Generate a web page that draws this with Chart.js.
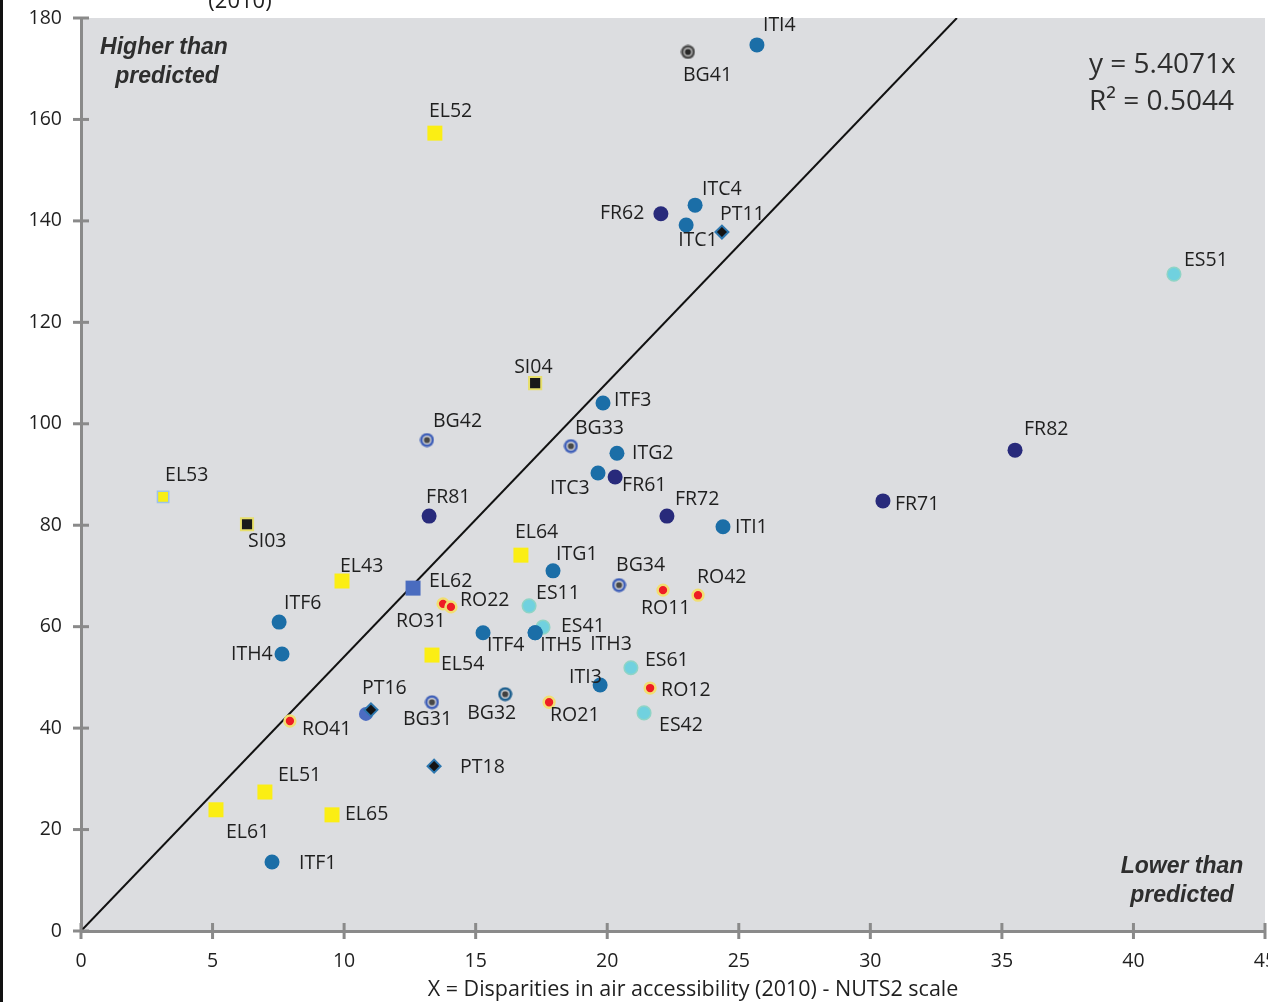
<!DOCTYPE html>
<html>
<head>
<meta charset="utf-8">
<script src="https://cdn.jsdelivr.net/npm/chart.js@4.4.1/dist/chart.umd.min.js"></script>
<style>
  html, body { margin: 0; padding: 0; background: #fff; }
  canvas { display: block; }
</style>
</head>
<body>
<canvas id="chart" width="1268" height="1002"></canvas>
<script>
// NUTS2 regions: air accessibility disparity (x) against the indicator (y)
const regionCodes = [
  'ITI4','BG41','EL52','FR62','ITC4','ITC1','PT11','ES51','SI04','ITF3',
  'BG42','BG33','ITG2','ITC3','FR61','FR81','FR72','ITI1','FR82','FR71',
  'EL53','SI03','EL64','ITG1','BG34','RO11','RO42','EL43','EL62','RO31',
  'RO22','ES11','ITF6','ES41','ITF4','ITH3','ITH5','ITH4','EL54','ES61',
  'ITI3','RO12','ES42','BG32','RO21','BG31','','PT16','RO41','PT18',
  'EL51','EL61','EL65','ITF1'
];
const airAccess = [
  25.69, 23.07, 13.45, 22.04, 23.34, 23.00, 24.36, 41.54, 17.26, 19.84,
  13.15, 18.62, 20.37, 19.65, 20.30, 13.23, 22.27, 24.40, 35.50, 30.48,
   3.12,  6.31, 16.72, 17.94, 20.45, 22.12, 23.45,  9.92, 12.62, 13.76,
  14.06, 17.03,  7.53, 17.56, 15.28, 17.26, 17.26,  7.64, 13.34, 20.90,
  19.73, 21.63, 21.40, 16.12, 17.79, 13.34, 10.83, 11.02,  7.94, 13.42,
   6.99,  5.13,  9.54,  7.26
];
const indicatorValue = [
  174.7, 173.3, 157.3, 141.4, 143.1, 139.2, 137.8, 129.5, 108.0, 104.1,
   96.8,  95.6,  94.2,  90.3,  89.5,  81.8,  81.8,  79.7,  94.8,  84.8,
   85.6,  80.2,  74.1,  71.0,  68.2,  67.2,  66.2,  69.0,  67.6,  64.5,
   63.9,  64.1,  60.9,  59.9,  58.8,  58.8,  58.8,  54.6,  54.4,  51.9,
   48.5,  47.9,  43.0,  46.7,  45.1,  45.1,  42.8,  43.6,  41.4,  32.5,
   27.4,  23.9,  22.9,  13.6
];
const markerGroup = [
  'IT','BG41','EL','FR','IT','IT','PT','ES','SI','IT',
  'BG','BG','IT','IT','FR','FR','FR','IT','FR','FR',
  'EL53','SI','EL','IT','BG','RO','RO','EL','EL62','RO',
  'RO','ES','IT','ES','IT','IT','IT','IT','EL','ES',
  'IT','RO','ES','BG32','RO','BG','OT','PT','RO','PT',
  'EL','EL','EL','IT'
];
const xTickValues = [0, 5, 10, 15, 20, 25, 30, 35, 40, 45];
const yTickValues = [0, 20, 40, 60, 80, 100, 120, 140, 160, 180];
const trendSlope = 5.4071;
const trendR2 = 0.5044;

// label placement around each marker (pixels: dx, dy of the text's left-middle)
const labelOffsets = {
  ITI4:[6,-19], BG41:[-5,23], EL52:[-6,-22], FR62:[-61,0], ITC4:[7,-16],
  ITC1:[-8,15], PT11:[-2,-18], ES51:[10,-14], SI04:[-21,-16], ITF3:[11,-3],
  BG42:[6,-19], BG33:[4,-18], ITG2:[15,0], ITC3:[-48,15], FR61:[7,8],
  FR81:[-3,-19], FR72:[8,-17], ITI1:[12,1], FR82:[9,-21], FR71:[12,4],
  EL53:[2,-21], SI03:[1,17], EL64:[-6,-23], ITG1:[3,-16], BG34:[-3,-20],
  RO11:[-22,18], RO42:[-1,-18], EL43:[-2,-15], EL62:[16,-7], RO31:[-47,18],
  RO22:[9,-6], ES11:[7,-12], ITF6:[5,-19], ES41:[18,-1], ITF4:[4,13],
  ITH3:[55,12], ITH5:[5,13], ITH4:[-51,0], EL54:[9,9], ES61:[14,-7],
  ITI3:[-31,-8], RO12:[11,2], ES42:[15,13], BG32:[-38,19], RO21:[1,13],
  BG31:[-29,17], PT16:[-9,-21], RO41:[12,8], PT18:[26,1], EL51:[13,-17],
  EL61:[10,23], EL65:[13,0], ITF1:[27,1]
};

// ringed markers
function ringMarker(outer, mid, inner) {
  const c = document.createElement('canvas');
  c.width = 15; c.height = 15;
  const g = c.getContext('2d');
  const disc = (r, col) => { g.beginPath(); g.arc(7.5, 7.5, r, 0, Math.PI * 2); g.fillStyle = col; g.fill(); };
  disc(7.0, outer); disc(4.5, mid); disc(3.1, inner);
  return c;
}

const markerStyles = {
  IT:   { pointStyle: 'circle',  radius: 7.5,  bg: '#1b6ea7', border: '#1b6ea7', bw: 0, order: 10 },
  FR:   { pointStyle: 'circle',  radius: 7.5,  bg: '#282a7b', border: '#282a7b', bw: 0, order: 12 },
  ES:   { pointStyle: 'circle',  radius: 6.8,  bg: '#70d1df', border: '#8fd4c6', bw: 1.5, order: 30 },
  EL:   { pointStyle: 'rect',    radius: 10.6, bg: '#fbee14', border: '#fbee14', bw: 0, order: 14 },
  EL62: { pointStyle: 'rect',    radius: 10.6, bg: '#4a6cbf', border: '#4a6cbf', bw: 0, order: 14 },
  EL53: { pointStyle: 'rect',    radius: 8.0,  bg: '#f7ee18', border: '#9dc3e8', bw: 1.5, order: 14 },
  SI:   { pointStyle: 'rect',    radius: 8.6,  bg: '#1a1a1a', border: '#e7df6c', bw: 2, order: 14 },
  RO:   { pointStyle: 'circle',  radius: 5.4,  bg: '#ee1c24', border: '#f1df72', bw: 2.5, order: 8 },
  BG:   { pointStyle: ringMarker('#3f5fb8', '#d6d7da', '#474747'), radius: 7, order: 9 },
  BG41: { pointStyle: ringMarker('#4a4a4a', '#bdbdbd', '#262626'), radius: 7, order: 9 },
  BG32: { pointStyle: ringMarker('#1d5f8e', '#d6d7da', '#404040'), radius: 7, order: 9 },
  PT:   { pointStyle: 'rectRot', radius: 6.5,  bg: '#141414', border: '#2c76ae', bw: 2, order: 5 },
  OT:   { pointStyle: 'circle',  radius: 7,    bg: '#4c6cc1', border: '#4c6cc1', bw: 0, order: 20 }
};

const groupNames = Object.keys(markerStyles);
const pointDatasets = groupNames.map(g => {
  const st = markerStyles[g];
  const pts = [], codes = [];
  regionCodes.forEach((code, i) => {
    if (markerGroup[i] === g) {
      pts.push({ x: airAccess[i], y: indicatorValue[i] });
      codes.push(code);
    }
  });
  return {
    type: 'scatter',
    label: g,
    data: pts,
    codes: codes,
    order: st.order,
    clip: false,
    pointStyle: st.pointStyle,
    pointRadius: st.radius,
    pointHoverRadius: st.radius,
    backgroundColor: st.bg || '#000',
    borderColor: st.border || '#000',
    borderWidth: st.bw || 0
  };
});

const yMax = 180;
const trendDataset = {
  type: 'line',
  label: 'trend',
  data: [{ x: 0, y: 0 }, { x: yMax / trendSlope, y: yMax }],
  borderColor: '#111',
  borderWidth: 2,
  pointRadius: 0,
  fill: false,
  order: 100
};

const AXIS_GREY = '#8a8a8a';
const TEXT = '#1f1f1f';
const PLOT = { left: 81, top: 18, right: 1265, bottom: 931 };

const decor = {
  id: 'decor',
  beforeDraw(chart) {
    const { ctx, chartArea: a } = chart;
    ctx.save();
    ctx.fillStyle = '#ffffff';
    ctx.fillRect(0, 0, chart.width, chart.height);
    ctx.fillStyle = '#dcdde0';
    ctx.fillRect(a.left, a.top, a.right - a.left, a.bottom - a.top);
    ctx.fillStyle = '#111';
    ctx.fillRect(0, 0, 3, chart.height);
    // heading fragment above the plot
    ctx.fillStyle = TEXT;
    ctx.font = '22px "Open Sans"';
    ctx.textAlign = 'center';
    ctx.textBaseline = 'alphabetic';
    ctx.fillText('(2010)', 240, 8);
    ctx.restore();
  },
  afterDatasetsDraw(chart) {
    const { ctx } = chart;
    ctx.save();
    ctx.font = '19.5px "Open Sans"';
    ctx.fillStyle = TEXT;
    ctx.textAlign = 'left';
    ctx.textBaseline = 'middle';
    chart.data.datasets.forEach((ds, di) => {
      if (!ds.codes) return;
      const meta = chart.getDatasetMeta(di);
      meta.data.forEach((el, i) => {
        const code = ds.codes[i];
        const off = labelOffsets[code];
        if (!code || !off) return;
        ctx.fillText(code, el.x + off[0], el.y + off[1]);
      });
    });
    ctx.restore();
  },
  afterDraw(chart) {
    const { ctx, chartArea: a } = chart;
    const xs = chart.scales.x, ys = chart.scales.y;
    ctx.save();
    // tick marks crossing the axes
    ctx.strokeStyle = AXIS_GREY;
    ctx.lineWidth = 3;
    ys.ticks.forEach(t => {
      const py = ys.getPixelForValue(t.value);
      ctx.beginPath(); ctx.moveTo(a.left - 8, py); ctx.lineTo(a.left + 8, py); ctx.stroke();
    });
    xs.ticks.forEach(t => {
      const px = xs.getPixelForValue(t.value);
      ctx.beginPath(); ctx.moveTo(px, a.bottom - 8); ctx.lineTo(px, a.bottom + 8); ctx.stroke();
    });
    // regression equation
    ctx.fillStyle = '#2e2e2e';
    ctx.textAlign = 'left';
    ctx.textBaseline = 'middle';
    ctx.font = '28px "Open Sans"';
    ctx.fillText('y = ' + trendSlope.toFixed(4) + 'x', 1089, 65);
    ctx.fillText('R\u00B2 = ' + trendR2.toFixed(4), 1089, 102);
    // quadrant notes
    ctx.font = 'italic bold 23px "Liberation Sans"';
    ctx.textAlign = 'center';
    ctx.fillStyle = '#2e2e2e';
    ctx.fillText('Higher than', 164, 48);
    ctx.fillText('predicted', 167, 77);
    ctx.fillText('Lower than', 1182, 867);
    ctx.fillText('predicted', 1182, 896);
    // x axis title
    ctx.font = '21.5px "Open Sans"';
    ctx.fillStyle = TEXT;
    ctx.fillText('X = Disparities in air accessibility (2010) - NUTS2 scale', 693, 990);
    ctx.restore();
  }
};

const chart = new Chart(document.getElementById('chart'), {
  type: 'scatter',
  data: { datasets: [...pointDatasets, trendDataset] },
  options: {
    responsive: false,
    devicePixelRatio: 1,
    animation: false,
    events: [],
    layout: { autoPadding: false, padding: { top: PLOT.top, right: 1268 - PLOT.right, left: 0, bottom: 0 } },
    plugins: { legend: { display: false }, tooltip: { enabled: false } },
    scales: {
      x: {
        type: 'linear',
        min: xTickValues[0],
        max: xTickValues[xTickValues.length - 1],
        afterBuildTicks(scale) { scale.ticks = xTickValues.map(v => ({ value: v })); },
        afterFit(scale) { scale.height = 1002 - PLOT.bottom; scale.paddingLeft = 0; scale.paddingRight = 0; },
        grid: { display: false, drawTicks: false },
        border: { display: true, color: AXIS_GREY, width: 3 },
        ticks: { padding: 19, color: TEXT, font: { family: 'Open Sans', size: 19.5 }, maxRotation: 0 }
      },
      y: {
        type: 'linear',
        min: yTickValues[0],
        max: yTickValues[yTickValues.length - 1],
        afterBuildTicks(scale) { scale.ticks = yTickValues.map(v => ({ value: v })); },
        afterFit(scale) { scale.width = PLOT.left; scale.paddingTop = 0; scale.paddingBottom = 0; },
        grid: { display: false, drawTicks: false },
        border: { display: true, color: AXIS_GREY, width: 3 },
        ticks: { padding: 19, color: TEXT, font: { family: 'Open Sans', size: 19.5 } }
      }
    }
  },
  plugins: [decor]
});

// keep the plot frame where it belongs if the layout added any extra space
const area = chart.chartArea;
const pad = chart.options.layout.padding;
const dTop = area.top - PLOT.top, dRight = PLOT.right - area.right;
if (Math.abs(dTop) > 0.5 || Math.abs(dRight) > 0.5) {
  pad.top -= dTop;
  pad.right -= dRight;
  chart.update();
}
</script>
</body>
</html>
